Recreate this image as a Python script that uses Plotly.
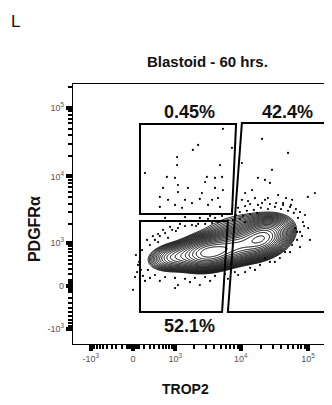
import numpy as np
import plotly.graph_objects as go

# ---------------- data (channel units = asinh(value / 500)) ----------------
COFACTOR = 500.0

# populations of the main contour blob: (TROP2 ch, PDGFRa ch, sd_x, sd_y, corr, weight)
pop_trop2 = [2.60, 4.40, 3.50, 1.45, 3.70]
pop_pdgfra = [1.12, 1.60, 1.35, 0.98, 1.85]
pop_sdx = [0.48, 0.42, 0.45, 0.42, 0.85]
pop_sdy = [0.25, 0.29, 0.26, 0.22, 0.38]
pop_corr = [0.20, 0.30, 0.20, 0.20, 0.30]
pop_weight = [1.00, 0.85, 0.55, 0.20, 0.05]

# outlier events (channel units)
dot_trop2 = [
    3.08, 2.23, 2.05, 1.51, 1.51, 2.98, 3.39, 0.41, 1.16, 2.53, 2.81, 3.05, 1.44, 1.54, 2.47,
    1.88, 1.03, 1.54, 2.36, 2.81, 3.08, 0.92, 1.20, 1.78, 2.29, 2.71, 2.91, 1.44, 2.02, 2.57,
    0.92, 1.68, 2.98, 1.78, 2.29, 2.64, 1.10,
    4.42, 5.31, 6.58, 3.73, 4.76, 4.52, 4.69, 4.28, 4.08, 3.84, 4.97, 5.99, 6.23, 5.45, 4.62,
    4.18, 3.73, 5.14,
    3.60, 3.84, 4.01, 4.28, 4.42, 4.69, 4.90, 5.14, 5.38, 5.58, 5.72, 5.89, 5.82, 6.00, 5.72,
    5.62, 5.45, 5.72, 5.21, 3.66, 3.90, 4.14, 4.38, 4.62, 4.86, 5.07, 5.31, 5.51, 3.53, 3.77,
    4.01, 4.25, 3.42, 3.66, 3.84, 5.65, 5.79, 5.55, 6.06, 5.03, 4.69, 4.35, 4.01, 4.52,
    0.24, 0.17, 0.31, 0.14, 0.34, 0.58, 0.75, 0.92, 1.10, 1.34, 1.54, 1.78, 2.02, 2.23, 2.47,
    2.71, 2.91, 3.15, 0.86, 1.20, 0.51, 0.75, 1.10, 1.44, 1.78, 2.12, 2.47, 2.81, 3.15, 3.49,
    0.41, 0.07, 0.00, 1.44, 2.29, 3.60, 1.54,
    0.48, 0.68, 1.03, 1.27, 1.61, 1.95, 2.29, 2.57, 2.81, 3.05, 3.25, 0.86, 1.47, 2.16, 0.21,
    0.10, 0.27, 0.58, 0.92, 1.95, 2.64, 3.25, 3.84, 4.18, 4.86, 5.38, 5.62, 5.86, 5.41, 4.52,
    3.94, 3.39, 5.24,
]
dot_pdgfra = [
    5.29, 4.75, 4.58, 4.34, 4.07, 4.07, 4.65, 3.80, 3.67, 3.67, 3.64, 3.67, 3.64, 3.40, 3.50,
    3.30, 3.30, 3.16, 3.13, 3.30, 3.23, 3.00, 2.90, 2.90, 2.93, 2.90, 2.96, 2.73, 2.79, 2.73,
    2.66, 2.63, 2.66, 2.32, 2.29, 2.36, 2.29,
    4.95, 4.48, 4.34, 4.14, 3.91, 3.57, 3.47, 3.64, 3.23, 3.13, 3.06, 3.00, 3.13, 2.90, 2.96,
    2.96, 2.90, 2.79,
    2.63, 2.69, 2.76, 2.73, 2.79, 2.76, 2.79, 2.73, 2.66, 2.59, 2.49, 2.39, 2.15, 1.95, 1.82,
    1.55, 1.38, 1.31, 1.14, 2.49, 2.53, 2.56, 2.63, 2.59, 2.66, 2.59, 2.53, 2.46, 2.39, 2.36,
    2.42, 2.46, 2.22, 2.26, 2.15, 2.29, 1.68, 1.95, 1.55, 0.94, 0.81, 0.71, 0.61, 0.94,
    0.94, 0.71, 1.21, 0.47, 0.34, 1.38, 1.55, 1.68, 1.78, 1.89, 1.95, 2.02, 2.05, 2.09, 2.09,
    2.12, 2.15, 2.19, 1.48, 1.62, 0.54, 0.37, 0.30, 0.27, 0.24, 0.27, 0.30, 0.34, 0.40, 0.47,
    0.17, 0.30, -0.13, -0.07, 0.03, 0.37, 0.03,
    1.55, 1.68, 1.89, 1.99, 2.09, 2.19, 2.19, 2.26, 2.29, 2.36, 2.42, 1.75, 1.85, 2.02, 0.81,
    1.04, 0.54, 0.27, 0.17, 0.13, 0.17, 0.24, 0.47, 0.54, 0.81, 1.14, 1.82, 2.02, 2.73, 2.90,
    2.86, 2.56, 2.96,
]

# gates (channel units), percentages
gate_ul_x = [0.24, 3.53, 3.39, 0.24]
gate_ul_y = [5.45, 5.45, 2.42, 2.42]
gate_ur_x = [3.73, 6.75, 6.75, 3.25]
gate_ur_y = [5.49, 5.49, -0.875, -0.875]
gate_ll_x = [0.24, 3.25, 3.05, 0.24]
gate_ll_y = [2.19, 2.19, -0.875, -0.875]
gate_pct = ["0.45%", "42.4%", "52.1%"]

major_vals = [-1000, 0, 1000, 10000, 100000]
major_text = ["-10<sup>3</sup>", "0", "10<sup>3</sup>", "10<sup>4</sup>", "10<sup>5</sup>"]


def ch(v):
    return np.arcsinh(np.asarray(v, dtype=float) / COFACTOR)


minor_raw = []
for k in range(1, 6):
    for m in range(1, 10):
        v = m * 10 ** k
        if v not in major_vals:
            minor_raw.append(v)
        if -v not in major_vals and v < 1000:
            minor_raw.append(-v)
minor_ch = [float(c) for c in ch(minor_raw)]

# ---------------- density grid ----------------
gx = np.linspace(-2.1, 7.2, 430)
gy = np.linspace(-2.0, 6.9, 420)
X, Y = np.meshgrid(gx, gy)
D = np.zeros_like(X)
for mx, my, sx, sy, r, w in zip(pop_trop2, pop_pdgfra, pop_sdx, pop_sdy, pop_corr, pop_weight):
    dx = (X - mx) / sx
    dy = (Y - my) / sy
    q = (dx * dx - 2 * r * dx * dy + dy * dy) / (1 - r * r)
    D += w * np.exp(-0.5 * q)
Z = np.log10(D / D.max() + 1e-12)

fig = go.Figure()
fig.add_trace(go.Contour(
    x=gx, y=gy, z=Z,
    contours=dict(start=-1.8, end=-0.05, size=0.09, coloring="none"),
    line=dict(color="black", width=1.0),
    showscale=False, hoverinfo="skip",
))
fig.add_trace(go.Scatter(
    x=dot_trop2, y=dot_pdgfra, mode="markers",
    marker=dict(size=2.2, color="black"), hoverinfo="skip",
))


def poly(xs, ys):
    p = "M %f %f " % (xs[0], ys[0])
    for a, b in zip(xs[1:], ys[1:]):
        p += "L %f %f " % (a, b)
    return p + "Z"


for gxs, gys in [(gate_ul_x, gate_ul_y), (gate_ur_x, gate_ur_y), (gate_ll_x, gate_ll_y)]:
    fig.add_shape(type="path", path=poly(gxs, gys), xref="x", yref="y",
                  line=dict(color="black", width=2), fillcolor="rgba(0,0,0,0)")

FONT = "Liberation Sans, Arial, Helvetica, sans-serif"
tickfont = dict(family=FONT, size=9, color="#555555")
axis_common = dict(
    tickmode="array", tickvals=[float(c) for c in ch(major_vals)], ticktext=major_text,
    ticks="outside", ticklen=6, tickwidth=3.5, tickcolor="black",
    showline=True, linecolor="black", linewidth=1.3,
    showgrid=False, zeroline=False, tickfont=tickfont, automargin=False,
    minor=dict(tickmode="array", tickvals=minor_ch, ticks="outside", ticklen=3.5,
               tickwidth=1.5, tickcolor="black", showgrid=False),
)

# the page body adds an 8 px offset; plot area spans screen x 73..340, y 84..344
fig.update_layout(
    width=332, height=405,
    margin=dict(l=65, r=0, t=76, b=69, autoexpand=False),
    plot_bgcolor="white", paper_bgcolor="white",
    showlegend=False,
    xaxis=dict(range=[-2.055, 7.09], mirror=True, **axis_common),
    yaxis=dict(range=[-1.953, 6.80], mirror=False, **axis_common),
    font=dict(family=FONT),
)

ann = [
    dict(text="<b>Blastoid - 60 hrs.</b>", x=0.502, y=1.085, size=15),
    dict(text="<b>PDGFRα</b>", x=-0.146, y=0.442, size=16, angle=-90),
    dict(text="<b>TROP2</b>", x=0.423, y=-0.173, size=14),
    dict(text="L", x=-0.217, y=1.242, size=17),
    dict(text="<b>%s</b>" % gate_pct[0], x=0.438, y=0.892, size=18),
    dict(text="<b>%s</b>" % gate_pct[1], x=0.805, y=0.892, size=18),
    dict(text="<b>%s</b>" % gate_pct[2], x=0.438, y=0.071, size=18),
]
for a in ann:
    fig.add_annotation(text=a["text"], x=a["x"], y=a["y"], xref="paper", yref="paper",
                       showarrow=False, xanchor="center", yanchor="middle",
                       textangle=a.get("angle", 0),
                       font=dict(family=FONT, size=a["size"], color="#111111"))

fig.write_html("out.html")
